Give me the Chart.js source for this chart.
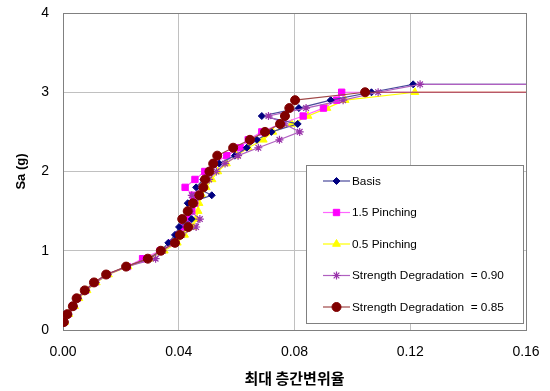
<!DOCTYPE html>
<html>
<head>
<meta charset="utf-8">
<script src="https://cdn.jsdelivr.net/npm/chart.js@4.4.1/dist/chart.umd.min.js"></script>
<style>
  html, body { margin: 0; padding: 0; background: #fff; }
  #wrap { width: 550px; height: 391px; }
</style>
</head>
<body>
<div id="wrap"><canvas id="idaChart"></canvas></div>
<script>
// spectral acceleration steps (g)
const saLevels = [0.1, 0.2, 0.3, 0.4, 0.5, 0.6, 0.7, 0.8, 0.9, 1.0,
  1.1, 1.2, 1.3, 1.4, 1.5, 1.6, 1.7, 1.8, 1.9, 2.0,
  2.1, 2.2, 2.3, 2.4, 2.5, 2.6, 2.7, 2.8, 2.9, 3.0];
const saLevelsExt = [...saLevels, 3.1];
const collapseDrift = 0.16;

// max interstory drift at each Sa level
const basisDrift = [0.0005, 0.0018, 0.0036, 0.0050, 0.0078, 0.0110, 0.0152, 0.0220, 0.0296, 0.0340,
  0.0364, 0.0387, 0.0401, 0.0445, 0.0432, 0.0431, 0.0514, 0.0460, 0.0485, 0.0505,
  0.0540, 0.0594, 0.0635, 0.0670, 0.0720, 0.0811, 0.0687, 0.0815, 0.0925, 0.1066, 0.1210];
const pinch15Drift = [0.0003, 0.0016, 0.0034, 0.0048, 0.0077, 0.0108, 0.0150, 0.0222, 0.0275, 0.0336,
  0.0380, 0.0400, 0.0415, 0.0430, 0.0445, 0.0455, 0.0450, 0.0422, 0.0456, 0.0490,
  0.0520, 0.0566, 0.0612, 0.0640, 0.0687, 0.0750, 0.0830, 0.0900, 0.0946, 0.0963];
const pinch05Drift = [0.0006, 0.0020, 0.0040, 0.0055, 0.0083, 0.0115, 0.0157, 0.0225, 0.0300, 0.0350,
  0.0395, 0.0420, 0.0450, 0.0460, 0.0467, 0.0470, 0.0480, 0.0495, 0.0515, 0.0535,
  0.0565, 0.0600, 0.0640, 0.0692, 0.0725, 0.0790, 0.0847, 0.0912, 0.0975, 0.1216];
const sd90Drift = [0.0005, 0.0018, 0.0038, 0.0052, 0.0080, 0.0113, 0.0155, 0.0220, 0.0320, 0.0345,
  0.0385, 0.0410, 0.0460, 0.0473, 0.0440, 0.0455, 0.0445, 0.0480, 0.0505, 0.0530,
  0.0560, 0.0605, 0.0675, 0.0748, 0.0818, 0.0765, 0.0710, 0.0840, 0.0968, 0.1089, 0.1234];
const sd85Drift = [0.0003, 0.0015, 0.0034, 0.0047, 0.0075, 0.0107, 0.0149, 0.0218, 0.0293, 0.0338,
  0.0387, 0.0404, 0.0433, 0.0412, 0.0431, 0.0449, 0.0471, 0.0485, 0.0491, 0.0506,
  0.0519, 0.0533, 0.0588, 0.0646, 0.0698, 0.0750, 0.0767, 0.0782, 0.0802, 0.1044];

const xTicks = [0, 0.04, 0.08, 0.12, 0.16];
const yTicks = [0, 1, 2, 3, 4];

const toPoints = (drifts, levels) => {
  const pts = drifts.map((d, i) => ({ x: d, y: levels[i] }));
  pts.push({ x: collapseDrift, y: levels[drifts.length - 1] }); // flatline
  return pts;
};

const makeSeries = (label, pts, line, fill, style, radius, order) => ({
  label: label,
  data: pts,
  showLine: true,
  borderColor: line,
  borderWidth: 1.2,
  backgroundColor: fill,
  pointBackgroundColor: fill,
  pointBorderColor: fill,
  pointBorderWidth: style === 'star' ? 1.2 : 1,
  pointStyle: style,
  pointRadius: (c) => (c.dataIndex === pts.length - 1 ? 0 : radius),
  legendRadius: radius,
  order: order,
});

const datasets = [
  makeSeries('Basis', toPoints(basisDrift, saLevelsExt), '#4a4a9c', '#000080', 'rectRot', 3.5, 3),
  makeSeries('1.5 Pinching', toPoints(pinch15Drift, saLevels), '#ff66ff', '#ff00ff', 'rect', 4.5, 4),
  makeSeries('0.5 Pinching', toPoints(pinch05Drift, saLevels), '#ffff00', '#ffff00', 'triangle', 4.5, 5),
  makeSeries('Strength Degradation  = 0.90', toPoints(sd90Drift, saLevelsExt), '#b060c0', '#9933aa', 'star', 4, 2),
  makeSeries('Strength Degradation  = 0.85', toPoints(sd85Drift, saLevels), '#a04848', '#800000', 'circle', 4.5, 1),
];

// frame around the plot area
const frame = {
  id: 'frame',
  beforeDatasetsDraw(chart) {
    const { ctx, chartArea: a } = chart;
    ctx.save();
    ctx.strokeStyle = '#808080';
    ctx.lineWidth = 1;
    ctx.strokeRect(a.left + 0.5, a.top + 0.5, a.right - a.left, a.bottom - a.top);
    ctx.restore();
  },
};

// boxed legend inside the plot
const boxLegend = {
  id: 'boxLegend',
  afterDatasetsDraw(chart) {
    const ctx = chart.ctx;
    const box = { x: 306, y: 165, w: 217, h: 158 };
    ctx.save();
    ctx.fillStyle = '#fff';
    ctx.fillRect(box.x, box.y, box.w, box.h);
    ctx.strokeStyle = '#808080';
    ctx.lineWidth = 1;
    ctx.strokeRect(box.x + 0.5, box.y + 0.5, box.w, box.h);
    ctx.font = '11.8px "Liberation Sans", Arial, sans-serif';
    ctx.textBaseline = 'middle';
    chart.data.datasets.forEach((ds, i) => {
      const y = 181 + i * 31.5;
      ctx.strokeStyle = ds.borderColor;
      ctx.lineWidth = 1.2;
      ctx.beginPath();
      ctx.moveTo(323, y);
      ctx.lineTo(350, y);
      ctx.stroke();
      ctx.fillStyle = ds.pointBackgroundColor;
      ctx.strokeStyle = ds.pointBorderColor;
      ctx.lineWidth = ds.pointBorderWidth;
      Chart.helpers.drawPoint(ctx, {
        pointStyle: ds.pointStyle,
        radius: ds.legendRadius,
        rotation: 0,
        borderWidth: ds.pointBorderWidth,
      }, 336.5, y);
      ctx.fillStyle = '#000';
      ctx.fillText(ds.label, 352, y + 0.5);
    });
    ctx.restore();
  },
};

const ctx = document.getElementById('idaChart').getContext('2d');
new Chart(ctx, {
  type: 'scatter',
  data: { datasets: datasets },
  plugins: [frame, boxLegend],
  options: {
    responsive: true,
    maintainAspectRatio: false,
    animation: false,
    layout: { padding: { left: 0, right: 24, top: 13, bottom: 0 } },
    plugins: { legend: { display: false }, tooltip: { enabled: false } },
    scales: {
      x: {
        type: 'linear',
        min: 0,
        max: 0.16,
        afterBuildTicks: (s) => { s.ticks = xTicks.map((v) => ({ value: v })); },
        afterFit: (s) => { s.height = 61; s.paddingLeft = 0; s.paddingRight = 0; },
        grid: { color: '#c0c0c0', lineWidth: 1, drawTicks: false },
        border: { color: '#808080' },
        ticks: {
          padding: 14,
          color: '#000',
          font: { family: '"Liberation Sans", Arial', size: 14 },
          callback: (v) => v.toFixed(2),
        },
        title: {
          display: true,
          text: '최대 층간변위율',
          color: '#000',
          padding: { top: 4 },
          font: { family: '"Noto Sans CJK KR", sans-serif', size: 15, weight: 'bold' },
        },
      },
      y: {
        type: 'linear',
        min: 0,
        max: 4,
        afterBuildTicks: (s) => { s.ticks = yTicks.map((v) => ({ value: v })); },
        afterFit: (s) => { s.width = 63; s.paddingTop = 0; s.paddingBottom = 0; },
        grid: { color: '#c0c0c0', lineWidth: 1, drawTicks: false },
        border: { color: '#808080' },
        ticks: {
          padding: 14,
          color: '#000',
          font: { family: '"Liberation Sans", Arial', size: 14 },
        },
        title: {
          display: true,
          text: 'Sa (g)',
          color: '#000',
          padding: { top: 14, bottom: 0 },
          font: { family: '"Liberation Sans", Arial', size: 13, weight: 'bold' },
        },
      },
    },
  },
});
</script>
</body>
</html>
